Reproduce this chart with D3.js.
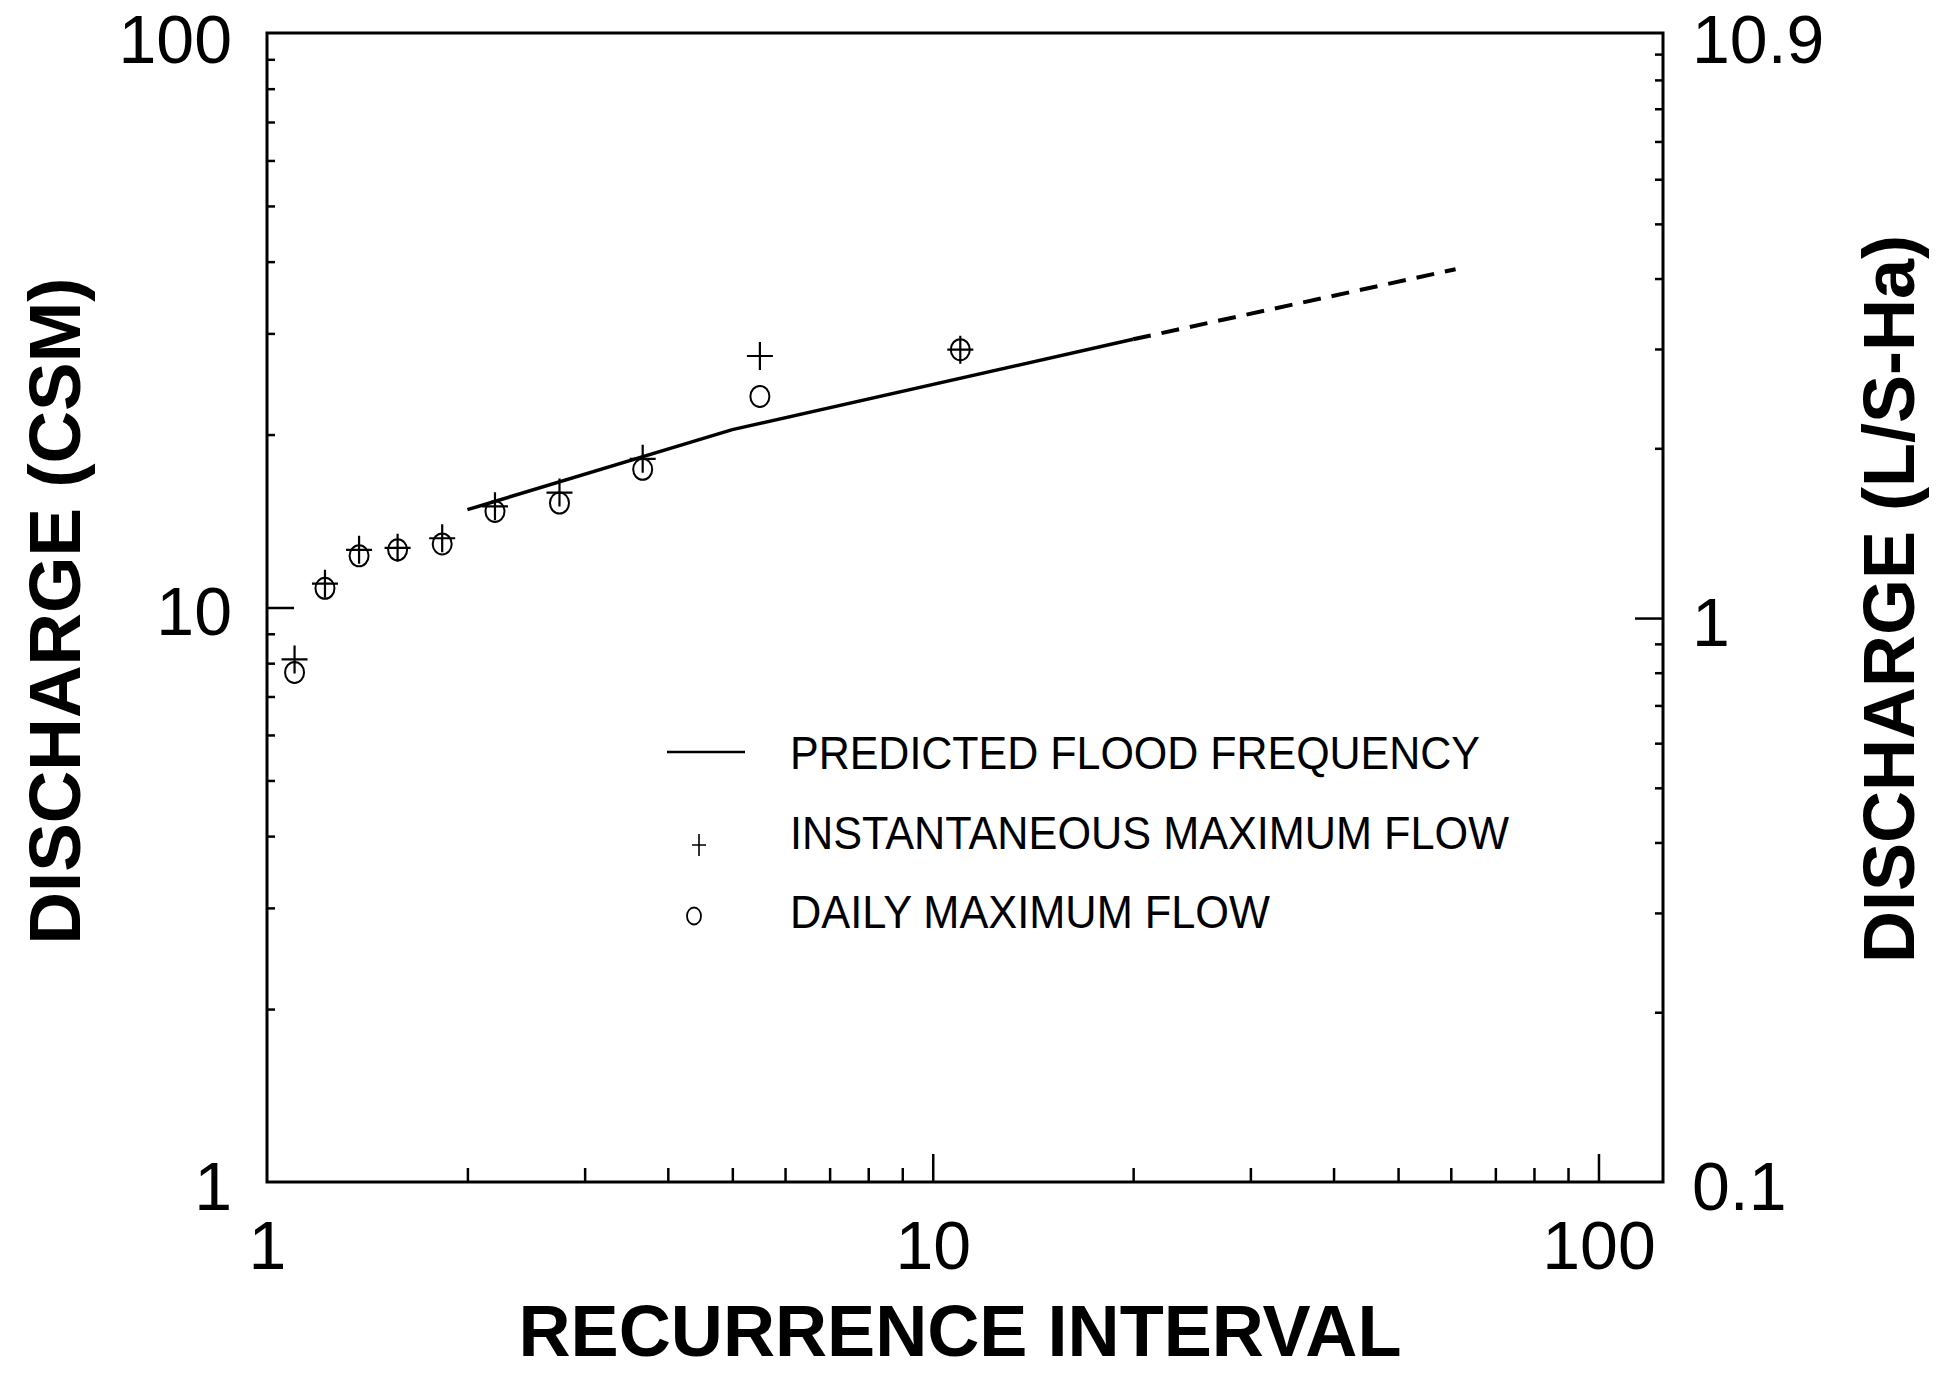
<!DOCTYPE html>
<html>
<head>
<meta charset="utf-8">
<script src="https://cdn.jsdelivr.net/npm/d3@7"></script>
<style>
  body { margin: 0; background: #fff; }
  text { font-family: "Liberation Sans", Arial, sans-serif; fill: #000; }
</style>
</head>
<body>
<div id="chart"></div>
<script>
// Valores
const recurrence = [1.1, 1.222, 1.375, 1.571, 1.833, 2.2, 2.75, 3.667, 5.5, 11];
const instantMax = [8.12, 11.0, 12.6, 12.7, 13.2, 15.0, 15.85, 18.15, 27.4, 28.1];
const dailyMax   = [7.71, 10.8, 12.3, 12.6, 12.9, 14.7, 15.2, 17.4, 23.3, 28.1];

// Curva de frecuencia predicha (solida) y su extrapolacion (discontinua)
const predictedT = [2, 5, 20];
const predictedQ = [14.8, 20.4, 29.3];
const extrapT = [20, 61];
const extrapQ = [29.3, 38.8];

// Marcas de los ejes
const xMinorTicks = [2, 3, 4, 5, 6, 7, 8, 9, 20, 30, 40, 50, 60, 70, 80, 90];
const xMajorTicks = [10, 100];
const xLabels = [1, 10, 100];
const yMinorTicks = [2, 3, 4, 5, 6, 7, 8, 9, 20, 30, 40, 50, 60, 70, 80, 90];
const yMajorTicks = [10];
const yLabels = [1, 10, 100];
const y2MinorTicks = [0.2, 0.3, 0.4, 0.5, 0.6, 0.7, 0.8, 0.9, 2, 3, 4, 5, 6, 7, 8, 9, 10];
const y2MajorTicks = [1];
const y2Labels = [0.1, 1, 10.9];

const legendLabels = ["PREDICTED FLOOD FREQUENCY", "INSTANTANEOUS MAXIMUM FLOW", "DAILY MAXIMUM FLOW"];

const width = 1937, height = 1374;
const plot = { left: 267, right: 1663, top: 33, bottom: 1182 };

const svg = d3.select("#chart").append("svg")
    .attr("width", width)
    .attr("height", height);

svg.append("rect").attr("width", width).attr("height", height).attr("fill", "#fff");

// Escalas
const x = d3.scaleLog().domain([1, 125]).range([plot.left, plot.right]);
const y = d3.scaleLog().domain([1, 100]).range([plot.bottom, plot.top]);
const y2 = d3.scaleLog().domain([0.1, 10.9]).range([plot.bottom, plot.top]);

// Marcas hacia adentro
function tickAxis(axis, transform) {
    const g = svg.append("g").attr("transform", transform).call(axis);
    g.select(".domain").remove();
    g.selectAll(".tick line").attr("stroke", "#000").attr("stroke-width", 2.5);
    return g;
}
tickAxis(d3.axisRight(y).tickValues(yMinorTicks).tickSize(8).tickFormat(""), `translate(${plot.left},0)`);
tickAxis(d3.axisRight(y).tickValues(yMajorTicks).tickSize(27).tickFormat(""), `translate(${plot.left},0)`);
tickAxis(d3.axisTop(x).tickValues(xMinorTicks).tickSize(14).tickFormat(""), `translate(0,${plot.bottom})`);
tickAxis(d3.axisTop(x).tickValues(xMajorTicks).tickSize(28).tickFormat(""), `translate(0,${plot.bottom})`);
tickAxis(d3.axisLeft(y2).tickValues(y2MinorTicks).tickSize(8).tickFormat(""), `translate(${plot.right},0)`);
tickAxis(d3.axisLeft(y2).tickValues(y2MajorTicks).tickSize(28).tickFormat(""), `translate(${plot.right},0)`);

// Etiquetas de los ejes
function labelAxis(axis, transform, vertical) {
    const g = svg.append("g").attr("transform", transform).call(axis);
    g.select(".domain").remove();
    g.selectAll(".tick line").remove();
    const t = g.selectAll("text")
        .attr("font-family", '"Liberation Sans", Arial, sans-serif')
        .attr("font-size", 68)
        .attr("fill", "#000");
    if (vertical) t.attr("dy", d => (d === 100 || d === 10.9) ? "0.44em" : "0.4em");
    return g;
}
labelAxis(d3.axisLeft(y).tickValues(yLabels).tickSize(0).tickPadding(35).tickFormat(d => String(d)), `translate(${plot.left},0)`, true);
labelAxis(d3.axisRight(y2).tickValues(y2Labels).tickSize(0).tickPadding(29).tickFormat(d => String(d)), `translate(${plot.right},0)`, true);
labelAxis(d3.axisBottom(x).tickValues(xLabels).tickSize(0).tickPadding(39).tickFormat(d => String(d)), `translate(0,${plot.bottom})`, false);

// Marco
svg.append("rect")
    .attr("x", plot.left).attr("y", plot.top)
    .attr("width", plot.right - plot.left).attr("height", plot.bottom - plot.top)
    .attr("fill", "none").attr("stroke", "#000").attr("stroke-width", 3);

// Curva predicha
const line = d3.line().x(d => x(d[0])).y(d => y(d[1]));
svg.append("path")
    .datum(d3.zip(predictedT, predictedQ))
    .attr("d", line)
    .attr("fill", "none").attr("stroke", "#000").attr("stroke-width", 3.5);
svg.append("path")
    .datum(d3.zip(extrapT, extrapQ))
    .attr("d", line)
    .attr("fill", "none").attr("stroke", "#000").attr("stroke-width", 4)
    .attr("stroke-dasharray", "18,11");

// Puntos
const crossPath = (cx, cy, w, h) => `M${cx - w},${cy}h${2 * w}M${cx},${cy - h}v${2 * h}`;

svg.append("g").selectAll("path")
    .data(d3.zip(recurrence, instantMax))
    .join("path")
    .attr("d", d => crossPath(x(d[0]), y(d[1]), 13, 14))
    .attr("fill", "none").attr("stroke", "#000").attr("stroke-width", 2.2);

svg.append("g").selectAll("ellipse")
    .data(d3.zip(recurrence, dailyMax))
    .join("ellipse")
    .attr("cx", d => x(d[0])).attr("cy", d => y(d[1]))
    .attr("rx", 9.5).attr("ry", 10.5)
    .attr("fill", "none").attr("stroke", "#000").attr("stroke-width", 2);

// Leyenda
const legend = svg.append("g");
legend.append("line")
    .attr("x1", 667).attr("x2", 745).attr("y1", 752).attr("y2", 752)
    .attr("stroke", "#000").attr("stroke-width", 2.5);
legend.append("path")
    .attr("d", crossPath(699, 845, 7, 11))
    .attr("fill", "none").attr("stroke", "#000").attr("stroke-width", 1.6);
legend.append("ellipse")
    .attr("cx", 694).attr("cy", 916).attr("rx", 7).attr("ry", 8.5)
    .attr("fill", "none").attr("stroke", "#000").attr("stroke-width", 1.8);

const legendWidths = [690, 719, 480];
legend.selectAll("text.leg")
    .data(legendLabels)
    .join("text")
    .attr("class", "leg")
    .attr("x", 790)
    .attr("y", (d, i) => 769 + i * 79.5)
    .attr("font-size", 46)
    .attr("textLength", (d, i) => legendWidths[i])
    .attr("lengthAdjust", "spacingAndGlyphs")
    .text(d => d);

// Titulos de ejes
svg.append("text")
    .attr("transform", "translate(80,611) rotate(-90)")
    .attr("text-anchor", "middle")
    .attr("font-size", 72).attr("font-weight", "bold")
    .attr("textLength", 667).attr("lengthAdjust", "spacingAndGlyphs")
    .text("DISCHARGE (CSM)");

svg.append("text")
    .attr("transform", "translate(1914,599) rotate(-90)")
    .attr("text-anchor", "middle")
    .attr("font-size", 72).attr("font-weight", "bold")
    .attr("textLength", 728).attr("lengthAdjust", "spacingAndGlyphs")
    .text("DISCHARGE (L/S-Ha)");

svg.append("text")
    .attr("x", 960).attr("y", 1356)
    .attr("text-anchor", "middle")
    .attr("font-size", 72).attr("font-weight", "bold")
    .attr("textLength", 883).attr("lengthAdjust", "spacingAndGlyphs")
    .text("RECURRENCE INTERVAL");
</script>
</body>
</html>
